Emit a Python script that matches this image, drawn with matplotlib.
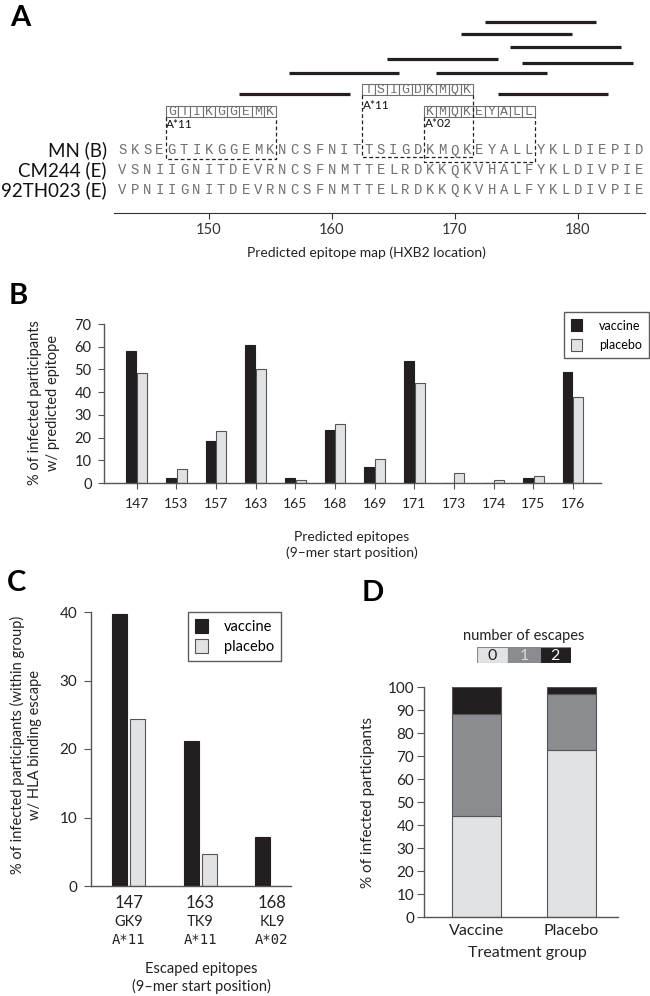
import matplotlib.pyplot as plt
import numpy as np
from matplotlib.patches import Rectangle
from matplotlib.transforms import blended_transform_factory

plt.rcParams['font.family'] = ['Lato', 'DejaVu Sans']

W, H = 650, 996

# --- panel A: sequences and predicted epitopes (HXB2 positions)
seq_start = 143
seq_names = ['MN (B)', 'CM244 (E)', '92TH023 (E)']
sequences = ['SKSEGTIKGGEMKNCSFNITTSIGDKMQKEYALLYKLDIEPID',
             'VSNIIGNITDEVRNCSFNMTTELRDKKQKVHALFYKLDIVPIE',
             'VPNIIGNITDEVRNCSFNMTTELRDKKQKVHALFYKLDIVPIE']
line_starts = [173, 171, 175, 165, 176, 157, 169, 153, 174]
boxed_starts = [147, 163, 168]
boxed_peptides = ['GTIKGGEMK', 'TSIGDKMQK', 'KMQKEYALL']
boxed_hla = ['A*11', 'A*11', 'A*02']
map_ticks = [150, 160, 170, 180]

# --- panel B: predicted epitopes per group (%)
epitope_starts = ['147', '153', '157', '163', '165', '168',
                  '169', '171', '173', '174', '175', '176']
pred_vaccine = [58.2, 2.4, 18.7, 60.6, 2.4, 23.4, 7.0, 53.6, 0, 0, 2.4, 49.0]
pred_placebo = [48.6, 6.0, 22.8, 50.1, 1.5, 25.9, 10.6, 44.0, 4.6, 1.5, 3.0, 38.0]

# --- panel C: escaped epitopes (%)
escaped_starts = ['147', '163', '168']
escaped_names = ['GK9', 'TK9', 'KL9']
escaped_hla = ['A*11', 'A*11', 'A*02']
escape_vaccine = [39.7, 21.1, 7.1]
escape_placebo = [24.4, 4.7, 0]

# --- panel D: number of escapes per participant (%)
groups = ['Vaccine', 'Placebo']
n_escapes = ['0', '1', '2']
escapes_0 = [44.1, 72.7]
escapes_1 = [44.1, 24.3]
escapes_2 = [11.8, 3.0]

DARK = '#231f20'
LIGHT = '#e1e2e4'
MID = '#8b8c90'
SPINE = '#555555'

fig = plt.figure(figsize=(6.5, 9.96), dpi=100)


def px_axes(x0, y0, x1, y1):
    return fig.add_axes([x0 / W, 1 - y1 / H, (x1 - x0) / W, (y1 - y0) / H])


def ftext(x, y, s, **kw):
    fig.text(x / W, 1 - y / H, s, **kw)


def style_axes(ax):
    for side in ['top', 'right']:
        ax.spines[side].set_visible(False)
    for side in ['left', 'bottom']:
        ax.spines[side].set_color(SPINE)
        ax.spines[side].set_linewidth(1.0)
    ax.tick_params(colors=SPINE, labelcolor='#222222', length=4, width=0.8)


# ================= A =================
axA = px_axes(114, 0, 645, 213)
axA.set_xlim(142.3, 185.47)
axA.set_ylim(213, 0)   # pixel rows
for side in ['top', 'right', 'left']:
    axA.spines[side].set_visible(False)
axA.spines['bottom'].set_color('#333333')
axA.set_yticks([])
axA.set_xticks(map_ticks)
axA.tick_params(axis='x', length=4, width=0.8, colors='#333333', labelsize=10.5, pad=3)

line_levels = [21.7, 34, 47.3, 59.3, 63.3, 73.3, 73.3, 94, 94]
for s, lvl in zip(line_starts, line_levels):
    axA.plot([s - 0.5, s + 8.5], [lvl, lvl], color=DARK, lw=2.3,
             solid_capstyle='butt')

row_levels = [150.5, 170.5, 190]
for name, seq, lvl in zip(seq_names, sequences, row_levels):
    ftext(107, lvl, name, ha='right', va='center', fontsize=13.5, color='#111111')
    for i, ch in enumerate(seq):
        axA.text(seq_start + i, lvl, ch, ha='center', va='center',
                 family='Liberation Mono', fontsize=10, color='#707070')

box_tops = [106, 84.5, 106]
box_h = 10.7
hla_levels = [124, 105.7, 123.7]
dash_bottoms = [159, 157.3, 162]
for s, pep, hla, top, hl, bot in zip(boxed_starts, boxed_peptides, boxed_hla,
                                    box_tops, hla_levels, dash_bottoms):
    for i, ch in enumerate(pep):
        axA.add_patch(Rectangle((s + i - 0.5, top), 1, box_h, facecolor='white',
                                edgecolor='#707070', lw=0.8))
        axA.text(s + i, top + box_h / 2 + 0.3, ch, ha='center', va='center',
                 family='Liberation Mono', fontsize=9.5, color='#707070')
    axA.plot([s - 0.5, s - 0.5, s + 8.5, s + 8.5], [top + box_h, bot, bot, top + box_h],
             color='#222222', lw=0.9, ls=(0, (3, 2)))
    axA.text(s - 0.45, hl, hla, ha='left', va='center', fontsize=8.5, color='#111111')

ftext(366, 253, 'Predicted epitope map (HXB2 location)', ha='center', va='center',
      fontsize=10, color='#222222')
ftext(20, 18, 'A', ha='center', va='center', fontsize=21, fontweight='bold')

# ================= B =================
axB = px_axes(104, 324, 601, 483)
idx = np.arange(len(epitope_starts))
axB.bar(idx - 0.26, pred_vaccine, width=0.25, align='edge', color=DARK,
        edgecolor=DARK, lw=0.8, label='vaccine')
axB.bar(idx + 0.01, pred_placebo, width=0.25, align='edge', color=LIGHT,
        edgecolor=SPINE, lw=0.8, label='placebo')
axB.set_xlim(-0.825, 11.71)
axB.set_ylim(0, 70)
axB.set_yticks(np.arange(0, 71, 10))
axB.set_xticks(idx, epitope_starts)
style_axes(axB)
axB.tick_params(axis='x', labelsize=10, pad=7)
axB.tick_params(axis='y', labelsize=10.5, pad=5)
axB.legend(loc='upper right', bbox_to_anchor=(649 / W, 1 - 312 / H),
           bbox_transform=fig.transFigure, fancybox=False, edgecolor='#333333',
           fontsize=9, handlelength=0.9, handleheight=1.1, borderpad=0.6,
           labelspacing=0.55, handletextpad=1.3, borderaxespad=0)
ftext(44, 403, '% of infected participants\nw/ predicted epitope', rotation=90,
      ha='center', va='center', fontsize=10.5, linespacing=1.35, color='#222222')
ftext(352, 545, 'Predicted epitopes\n(9\u2013mer start position)', ha='center',
      va='center', fontsize=10, linespacing=1.25, color='#222222')
ftext(18, 296, 'B', ha='center', va='center', fontsize=21, fontweight='bold')

# ================= C =================
axC = px_axes(91, 612, 291, 886)
idc = np.arange(len(escaped_starts))
axC.bar(idc - 0.231, escape_vaccine, width=0.21, align='edge', color=DARK,
        edgecolor=DARK, lw=0.8, label='vaccine')
axC.bar(idc + 0.021, escape_placebo, width=0.21, align='edge', color=LIGHT,
        edgecolor=SPINE, lw=0.8, label='placebo')
axC.set_xlim(-0.531, 2.266)
axC.set_ylim(0, 40)
axC.set_yticks(np.arange(0, 41, 10))
axC.set_xticks(idc, [''] * 3)
style_axes(axC)
axC.tick_params(axis='x', length=0)
axC.tick_params(axis='y', labelsize=11, pad=5, length=5)
trC = blended_transform_factory(axC.transData, fig.transFigure)
for i, (st, nm, hla) in enumerate(zip(escaped_starts, escaped_names, escaped_hla)):
    axC.text(i, 1 - 903 / H, st, transform=trC, ha='center', va='center',
             fontsize=12, color='#222222')
    axC.text(i, 1 - 921.7 / H, nm, transform=trC, ha='center', va='center',
             fontsize=10.5, color='#222222')
    axC.text(i, 1 - 940 / H, hla, transform=trC, ha='center', va='center',
             family='DejaVu Sans Mono', fontsize=10, color='#222222')
axC.legend(loc='upper right', bbox_to_anchor=(281 / W, 1 - 612 / H),
           bbox_transform=fig.transFigure, fancybox=False, edgecolor='#333333',
           fontsize=10.5, handlelength=0.9, handleheight=1.1, borderpad=0.45,
           labelspacing=0.4, handletextpad=1.1, borderaxespad=0)
ftext(26, 745, '% of infected participants (within group)\nw/ HLA binding escape',
      rotation=90, ha='center', va='center', fontsize=10.5, linespacing=1.3,
      color='#222222')
ftext(201, 978, 'Escaped epitopes\n(9\u2013mer start position)', ha='center',
      va='center', fontsize=10.5, linespacing=1.2, color='#222222')
ftext(17, 583, 'C', ha='center', va='center', fontsize=21, fontweight='bold')

# ================= D =================
axD = px_axes(424, 687, 618, 917)
idd = np.arange(len(groups))
bottom = np.zeros(len(groups))
stack_colors = [LIGHT, MID, DARK]
for vals, col in zip([escapes_0, escapes_1, escapes_2], stack_colors):
    axD.bar(idd, vals, bottom=bottom, width=0.518, color=col, edgecolor=SPINE, lw=0.8)
    bottom += np.array(vals)
axD.set_xlim(-0.55, 1.488)
axD.set_ylim(0, 100)
axD.set_yticks(np.arange(0, 101, 10))
axD.set_xticks(idd, groups)
style_axes(axD)
axD.tick_params(axis='x', length=0, labelsize=11.5, pad=5)
axD.tick_params(axis='y', labelsize=11, pad=2, length=5)
ftext(368, 802, '% of infected participants', rotation=90, ha='center',
      va='center', fontsize=11, color='#222222')
ftext(527, 953, 'Treatment group', ha='center', va='center', fontsize=11.5,
      color='#222222')
ftext(373, 593, 'D', ha='center', va='center', fontsize=21, fontweight='bold')

# escape count key
axK = px_axes(477, 647, 571, 663)
axK.set_xlim(0, 3)
axK.set_ylim(0, 1)
axK.axis('off')
key_text = [DARK, '#d8d8d8', 'white']
for k, (lab, col, tc) in enumerate(zip(n_escapes, stack_colors, key_text)):
    axK.add_patch(Rectangle((k, 0), 1, 1, facecolor=col, edgecolor='#888888', lw=0.8))
    axK.text(k + 0.5, 0.45, lab, ha='center', va='center', fontsize=11.5, color=tc)
ftext(524, 636, 'number of escapes', ha='center', va='center', fontsize=10.5,
      color='#222222')

fig.savefig('out.png', dpi=100)
